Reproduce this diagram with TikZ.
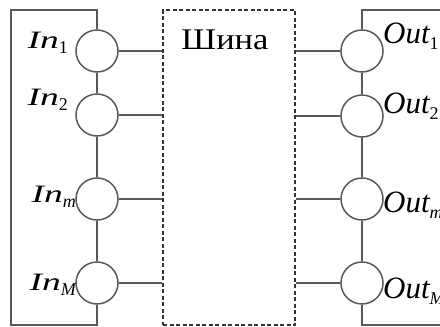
\documentclass[tikz,border=0pt]{standalone}
\usepackage{fontspec}
\setmainfont{Liberation Serif}
\newcommand{\lsub}[1]{\raisebox{-0.2em}{\fontsize{18}{18}\selectfont #1}}
\begin{document}
\begin{tikzpicture}[x=1pt,y=-1pt,
  ln/.style={draw=black!65, line width=1.5pt},
  port/.style={circle, draw=black!65, line width=1.5pt, fill=white, minimum size=42pt, inner sep=0pt},
  inlbl/.style={font=\fontsize{25}{25}\selectfont\itshape, inner sep=0pt, anchor=base east},
  outlbl/.style={font=\fontsize{31}{31}\selectfont\itshape, inner sep=0pt, anchor=base west},
  busbox/.style={draw=black!80, line width=1.5pt, dash pattern=on 4pt off 2.5pt, minimum width=132pt, minimum height=315pt, inner sep=0pt}]
\useasboundingbox (0,0) rectangle (440,327);
\clip (0,0) rectangle (440,327);
% bus
\node[busbox] (bus) at (229,167.5) {};
\node[font=\fontsize{30}{30}\selectfont, inner sep=0pt, anchor=base] (busl) at (225,49) {\scalebox{1.15}[1]{Шина}};
% input ports
\node[port] (i1) at (97,51) {};
\node[port] (i2) at (97,115) {};
\node[port] (im) at (97,199) {};
\node[port] (iM) at (97,283) {};
% output ports
\node[port] (o1) at (362,51) {};
\node[port] (o2) at (362,116) {};
\node[port] (om) at (362,199) {};
\node[port] (oM) at (362,283) {};
% frame corners
\coordinate (lt) at (11,10);
\coordinate (lb) at (11,325);
\coordinate (rt) at (446,10);
\coordinate (rb) at (446,325);
% left chain
\draw[ln] (i1.north) |- (lt) -- (lb) -| (iM.south);
\draw[ln] (i1) -- (i2);
\draw[ln] (i2) -- (im);
\draw[ln] (im) -- (iM);
% right chain
\draw[ln] (o1.north) |- (rt) -- (rb) -| (oM.south);
\draw[ln] (o1) -- (o2);
\draw[ln] (o2) -- (om);
\draw[ln] (om) -- (oM);
% links to bus
\draw[ln] (i1.east) -- (i1.east -| bus.west);
\draw[ln] (i2.east) -- (i2.east -| bus.west);
\draw[ln] (im.east) -- (im.east -| bus.west);
\draw[ln] (iM.east) -- (iM.east -| bus.west);
\draw[ln] (o1.west) -- (o1.west -| bus.east);
\draw[ln] (o2.west) -- (o2.west -| bus.east);
\draw[ln] (om.west) -- (om.west -| bus.east);
\draw[ln] (oM.west) -- (oM.west -| bus.east);
% labels
\node[inlbl] (li1) at (68,48) {\scalebox{1.5}[1]{In}\lsub{\upshape 1}};
\node[inlbl] (li2) at (68,105) {\scalebox{1.5}[1]{In}\lsub{\upshape 2}};
\node[inlbl] (lim) at (76,202) {\scalebox{1.5}[1]{In}\lsub{m}};
\node[inlbl] (liM) at (76,290) {\scalebox{1.5}[1]{In}\lsub{M}};
\node[outlbl] (lo1) at (383,43) {Out\lsub{\upshape 1}};
\node[outlbl] (lo2) at (383,113) {Out\lsub{\upshape 2}};
\node[outlbl] (lom) at (383,212) {Out\lsub{m}};
\node[outlbl] (loM) at (383,298) {Out\lsub{M}};
\end{tikzpicture}
\end{document}
